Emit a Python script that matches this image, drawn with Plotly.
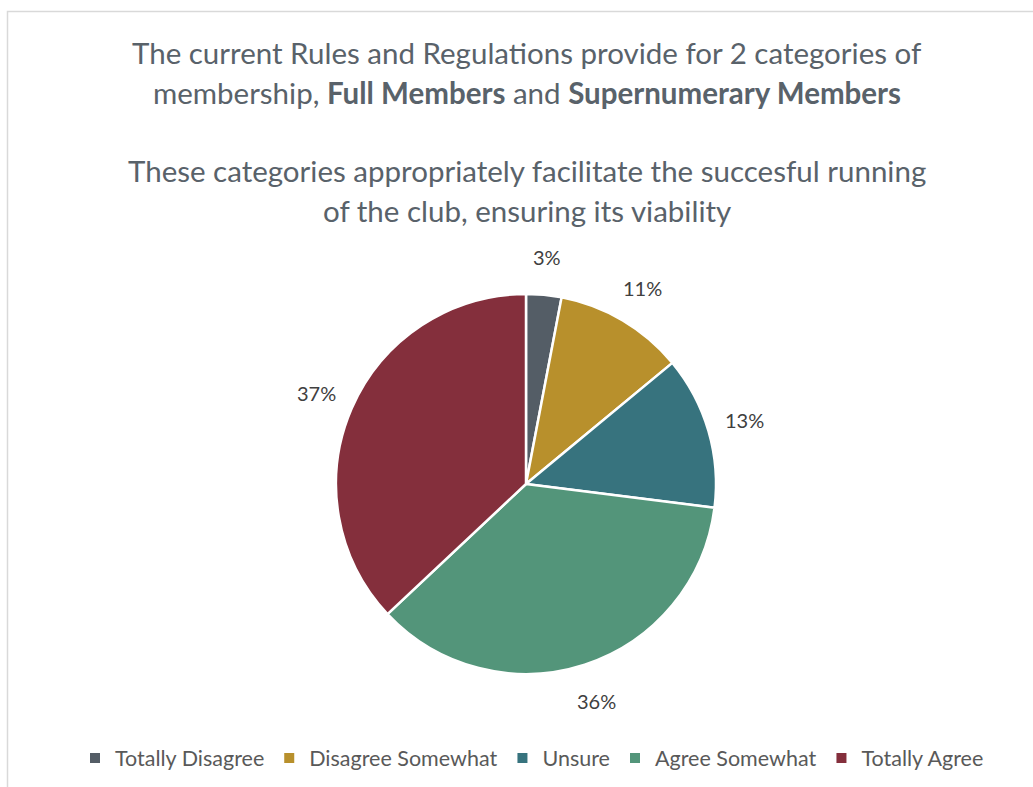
import math
import plotly.graph_objects as go

# Survey responses (share of respondents, %)
categories = ["Totally Disagree", "Disagree Somewhat", "Unsure", "Agree Somewhat", "Totally Agree"]
shares = [3, 11, 13, 36, 37]
colors = ["#545D66", "#B8902C", "#37737E", "#53957A", "#842F3C"]

W, H = 1033, 787
FONT = "Lato, Calibri, Carlito, sans-serif"
TITLE_COLOR = "#59626A"

# pie geometry in pixels
cx, cy, r = 526, 484, 190
label_r = 228

fig = go.Figure(
    go.Pie(
        labels=categories,
        values=shares,
        sort=False,
        direction="clockwise",
        rotation=0,
        marker=dict(colors=colors, line=dict(color="white", width=2.5)),
        textinfo="none",
        hoverinfo="label+percent",
        domain=dict(x=[(cx - r) / W, (cx + r) / W], y=[1 - (cy + r) / H, 1 - (cy - r) / H]),
    )
)

annotations = []

# percentage labels placed just outside each slice's mid angle
total = sum(shares)
cum = 0
for v in shares:
    mid = (cum + v / 2) / total * 2 * math.pi
    cum += v
    lx = cx + label_r * math.sin(mid)
    ly = cy - label_r * math.cos(mid)
    annotations.append(dict(
        x=lx / W, y=1 - ly / H, xref="paper", yref="paper",
        text=f"{v}%", showarrow=False, xanchor="center", yanchor="middle",
        font=dict(family=FONT, size=20, color="#404040"),
    ))

title_lines = [
    ("The current Rules and Regulations provide for 2 categories of", 52),
    ("membership, <b>Full Members</b> and <b>Supernumerary Members</b>", 92),
    ("These categories appropriately facilitate the succesful running", 170),
    ("of the club, ensuring its viability", 210),
]
for text, y in title_lines:
    annotations.append(dict(
        x=527 / W, y=1 - y / H, xref="paper", yref="paper",
        text=text, showarrow=False, xanchor="center", yanchor="middle",
        font=dict(family=FONT, size=29.5, color=TITLE_COLOR),
    ))

fig.update_layout(
    width=W, height=H,
    margin=dict(l=0, r=0, t=0, b=0),
    paper_bgcolor="white",
    plot_bgcolor="white",
    annotations=annotations,
    showlegend=True,
    legend=dict(
        orientation="h", x=532 / W, xanchor="center", y=1 - 758 / H, yanchor="middle",
        font=dict(family=FONT, size=21.5, color="#595959"),
        itemsizing="constant", traceorder="normal",
    ),
    shapes=[dict(
        type="rect", xref="paper", yref="paper",
        x0=7.5 / W, x1=1.02, y0=-0.02, y1=1 - 11.5 / H,
        line=dict(color="#D9D9D9", width=1.5), fillcolor="rgba(0,0,0,0)",
    )],
)

fig.write_html("out.html")
